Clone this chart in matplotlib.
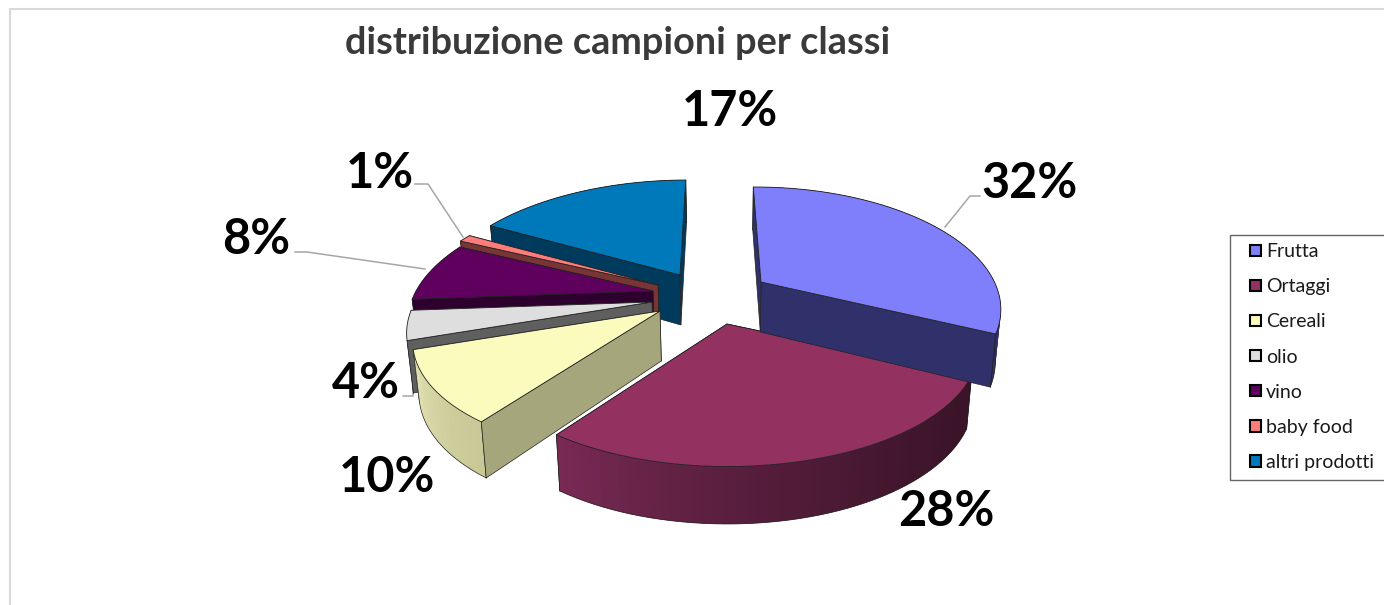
import numpy as np
import matplotlib
matplotlib.use("Agg")
import matplotlib.pyplot as plt
from matplotlib.colors import to_rgb
from matplotlib.legend_handler import HandlerPatch
from matplotlib.patches import Patch, Polygon, Rectangle

plt.rcParams['font.family'] = ['Lato', 'DejaVu Sans']

categories = ['Frutta', 'Ortaggi', 'Cereali', 'olio', 'vino', 'baby food', 'altri prodotti']
values = [32, 28, 10, 4, 8, 1, 17]
percent_labels = ['32%', '28%', '10%', '4%', '8%', '1%', '17%']

top_colors = ['#7f7ffb', '#933161', '#fbfbbe', '#dedede', '#5f005f', '#ff7c7c', '#0079bb']
cut_colors = ['#30306a', '#3a1428', '#a6a67c', '#5f5f5f', '#2e002e', '#773535', '#003a5c']
# colore della parete esterna: inizio e fine della fetta
wall_start = ['#2f2f66', '#3a1428', '#c9c998', '#b0b0b0', '#2e002e', '#773535', '#003a5c']
wall_end = ['#2f2f66', '#7a2a55', '#e6e6b8', '#e0e0e0', '#2e002e', '#773535', '#003a5c']

# punto di esplosione di ogni fetta, in pixel
apex = [(761, 282), (727, 324), (660, 311), (652, 302), (653, 291), (658, 285), (680, 275)]
width_scale = [0.985, 1.04, 1.01, 1.0, 1.0, 1.02, 1.015]
draw_order = [6, 5, 4, 3, 2, 1, 0]

# prospettiva
RX, RY, K = 237, 114, 0.2
VX = 725
DEPTH = 50
START_ANGLE = -0.5


def project(center, t, scale=1.0):
    """Punto del bordo superiore della fetta per l'angolo t (gradi, orario)."""
    t = np.radians(t)
    u, v = np.sin(t), -np.cos(t)
    w = 1 - K * v
    x = center[0] + RX * scale * u / w + (center[0] - VX) * (1 / w - 1)
    y = center[1] + RY * v / w
    return x, y, v


def drop(x, y, v):
    """Punto corrispondente sul bordo inferiore."""
    return VX + (x - VX) * 0.98, y + DEPTH * (1 + 0.15 * v)


def draw_slice(ax, i, t0, t1, zorder):
    center = apex[i]
    ts = np.linspace(t0, t1, max(int(t1 - t0) // 2, 4))
    xs, ys, vs = project(center, ts, width_scale[i])
    xb, yb = drop(xs, ys, vs)
    cx, cy = drop(center[0], center[1], 0)

    # pareti tagliate: quelle rivolte verso chi guarda stanno sopra la parete esterna
    visible = [np.sin(np.radians(t1)) > 0, np.sin(np.radians(t0)) < 0]
    for k, front in zip((-1, 0), visible):
        pts = [center, (xs[k], ys[k]), (xb[k], yb[k]), (cx, cy)]
        ax.add_patch(Polygon(pts, facecolor=cut_colors[i], edgecolor='#222222', linewidth=0.5,
                             zorder=zorder + (0.2 if front else 0)))

    # parete esterna a strisce sovrapposte per la sfumatura
    c0, c1 = np.array(to_rgb(wall_start[i])), np.array(to_rgb(wall_end[i]))
    n = len(ts) - 1
    for j in range(n):
        f = ((j + 0.5) / n) ** 1.6
        end = min(j + 2, n)
        pts = [(xs[j], ys[j]), (xs[end], ys[end]), (xb[end], yb[end]), (xb[j], yb[j])]
        ax.add_patch(Polygon(pts, facecolor=c0 + (c1 - c0) * f, edgecolor='none', linewidth=0,
                             zorder=zorder + 0.1))
    ax.plot(xb, yb, color='#222222', linewidth=0.5, zorder=zorder + 0.15)
    ax.plot([xs[0], xb[0]], [ys[0], yb[0]], color='#222222', linewidth=0.5, zorder=zorder + 0.15)
    ax.plot([xs[-1], xb[-1]], [ys[-1], yb[-1]], color='#222222', linewidth=0.5, zorder=zorder + 0.15)

    # faccia superiore
    pts = [center] + list(zip(xs, ys))
    ax.add_patch(Polygon(pts, facecolor=top_colors[i], edgecolor='#222222',
                         linewidth=0.6, zorder=zorder + 0.3))


def legend_square(legend, orig_handle, xdescent, ydescent, width, height, fontsize):
    # quadratino allineato a destra nello spazio della chiave
    side = 0.58 * fontsize
    return Rectangle((width - side - xdescent, (height - side) / 2 - ydescent), side, side)


def main():
    fig = plt.figure(figsize=(13.84, 6.05), dpi=100)
    ax = fig.add_axes([0, 0, 1, 1])
    ax.set_xlim(0, 1384)
    ax.set_ylim(605, 0)
    ax.axis('off')

    # cornice del grafico
    ax.plot([10, 10, 1384], [605, 9, 9], color='#d9d9d9', linewidth=1.5, zorder=0)

    edges = np.concatenate([[0], np.cumsum(values)]) / np.sum(values) * 360 + START_ANGLE
    for n, i in enumerate(draw_order):
        draw_slice(ax, i, edges[i], edges[i + 1], 2 + n)

    # linee guida
    leader = '#a6a6a6'
    ax.plot([945, 970, 980], [227, 196, 196], color=leader, linewidth=1.1, zorder=1)
    ax.plot([295, 307, 425], [252, 252, 269], color=leader, linewidth=1.1, zorder=1)
    ax.plot([415, 428, 463], [184, 184, 237], color=leader, linewidth=1.1, zorder=1)
    ax.plot([403, 413, 413], [396, 396, 377], color=leader, linewidth=1.1, zorder=1)

    # etichette percentuali
    label_pos = [(1030, 183), (946, 511), (387, 478), (366, 383), (256, 240), (380, 173), (730, 111)]
    for text, (x, y) in zip(percent_labels, label_pos):
        ax.text(x, y, text, ha='center', va='center', fontsize=35, fontweight='bold',
                color='black', zorder=30)

    ax.text(618, 43, 'distribuzione campioni per classi', ha='center', va='center',
            fontsize=27.3, fontweight='bold', color='#3a3a3a')

    handles = [Patch(facecolor=c, edgecolor='black', linewidth=1.5) for c in top_colors]
    legend = ax.legend(handles, categories, loc='upper left',
                       bbox_to_anchor=(1229.5 / 1384, 1 - 479.5 / 605, 170 / 1384, 245 / 605),
                       mode='expand', borderaxespad=0, fontsize=14, frameon=True, fancybox=False,
                       edgecolor='#666666', framealpha=1, handlelength=1.19, handleheight=0.7,
                       handletextpad=0.25, labelspacing=0.93, borderpad=0.45, labelcolor='#1a1a1a',
                       handler_map={Patch: HandlerPatch(patch_func=legend_square)})
    legend.get_frame().set_linewidth(1.0)
    legend.set_zorder(40)

    fig.savefig('out.png', dpi=100)


if __name__ == "__main__":
    main()
